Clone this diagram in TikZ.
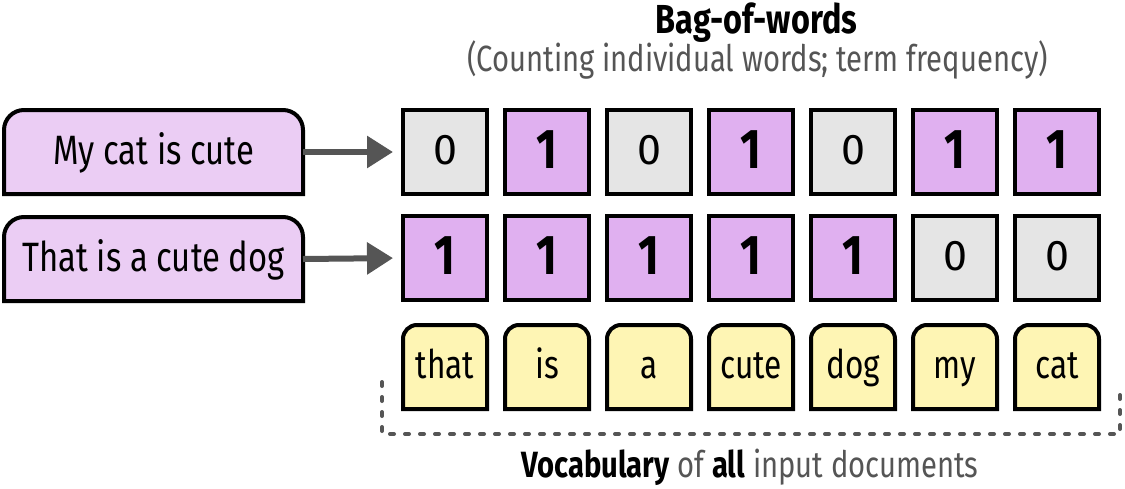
\documentclass[tikz,border=0pt]{standalone}
\usepackage{fontspec}
\setmainfont{Fira Sans}[FakeStretch=0.8]
\newfontfamily\digitfont{Fira Sans}
\usetikzlibrary{arrows.meta,backgrounds}
\definecolor{sentfill}{HTML}{EBCDF4}
\definecolor{onefill}{HTML}{E0B0F0}
\definecolor{zerofill}{HTML}{E5E5E5}
\definecolor{vocfill}{HTML}{FEF5B4}
\definecolor{darkgr}{HTML}{555555}
\tikzset{
  boxline/.style={draw=black, line width=4pt},
  sentnode/.style={minimum width=299pt, minimum height=84pt, inner sep=0pt, outer sep=0pt,
    text height=24pt, text depth=0pt, font=\fontsize{41}{41}\selectfont},
  vocnode/.style={minimum width=84pt, minimum height=84pt, inner sep=0pt, outer sep=0pt,
    text height=22pt, text depth=0pt, font=\fontsize{39.5}{39.5}\selectfont},
  numbox/.style={boxline, minimum width=84pt, minimum height=84pt, inner sep=0pt, outer sep=0pt},
  onebox/.style={numbox, fill=onefill, text height=32pt, text depth=0pt,
    font=\fontsize{56}{56}\selectfont\bfseries},
  zerobox/.style={numbox, fill=zerofill, text height=24pt, text depth=0pt,
    font=\digitfont\fontsize{43}{43}\selectfont},
  arrowline/.style={draw=darkgr, line width=6pt, -{Triangle[length=26pt,width=31pt]}, shorten >=10pt},
  dashline/.style={draw=darkgr, line width=4pt, line cap=round, dash pattern=on 4pt off 11pt},
}
\begin{document}
\begin{tikzpicture}[x=1pt,y=-1pt]
\useasboundingbox (0,0) rectangle (1125,488);

% titles
\node[anchor=base, font=\fontsize{40.5}{40.5}\selectfont\bfseries] (title) at (756.5,33) {Bag-of-words};
\node[anchor=base, text=darkgr, font=\fontsize{36.5}{36.5}\selectfont] (sub) at (757.5,71) {(Counting individual words; term frequency)};

% sentences
\node[sentnode] (s1) at (153.5,152) {My cat is cute};
\node[sentnode] (s2) at (153.5,259) {That is a cute dog};

% number rows
\foreach \v [count=\i from 0] in {0,1,0,1,0,1,1} {
  \ifnum\v=1 \def\st{onebox}\else\def\st{zerobox}\fi
  \node[\st] (a\i) at ({445+102*\i},152) {\v};
}
\foreach \v [count=\i from 0] in {1,1,1,1,1,0,0} {
  \ifnum\v=1 \def\st{onebox}\else\def\st{zerobox}\fi
  \node[\st] (b\i) at ({445+102*\i},258) {\v};
}

% vocabulary
\foreach \w [count=\i from 0] in {that,is,a,cute,dog,my,cat} {
  \node[vocnode] (v\i) at ({445+102*\i},367) {\w};
}

\begin{scope}[on background layer]
  \foreach \n in {s1,s2} {
    \draw[boxline, fill=sentfill] (\n.south west) [rounded corners=20pt] -- (\n.north west) -- (\n.north east) [sharp corners] -- (\n.south east) -- cycle;
  }
  \foreach \i in {0,...,6} {
    \draw[boxline, fill=vocfill] (v\i.south west) [rounded corners=14pt] -- (v\i.north west) -- (v\i.north east) [sharp corners] -- (v\i.south east) -- cycle;
  }
\end{scope}

% arrows
\draw[arrowline] (s1.east) -- (a0.west);
\draw[arrowline] (s2.east) -- (b0.west);

% bracket
\coordinate (bl) at (382,382);
\coordinate (br) at (1120,387);
\draw[dashline] (bl) -- (382,434) -- (1120,434) -- (br);

\node[anchor=base, font=\fontsize{36.5}{36.5}\selectfont] (voc) at (750,477)
  {\textbf{Vocabulary} \textcolor{darkgr}{of} \textbf{all} \textcolor{darkgr}{input documents}};
\end{tikzpicture}
\end{document}
